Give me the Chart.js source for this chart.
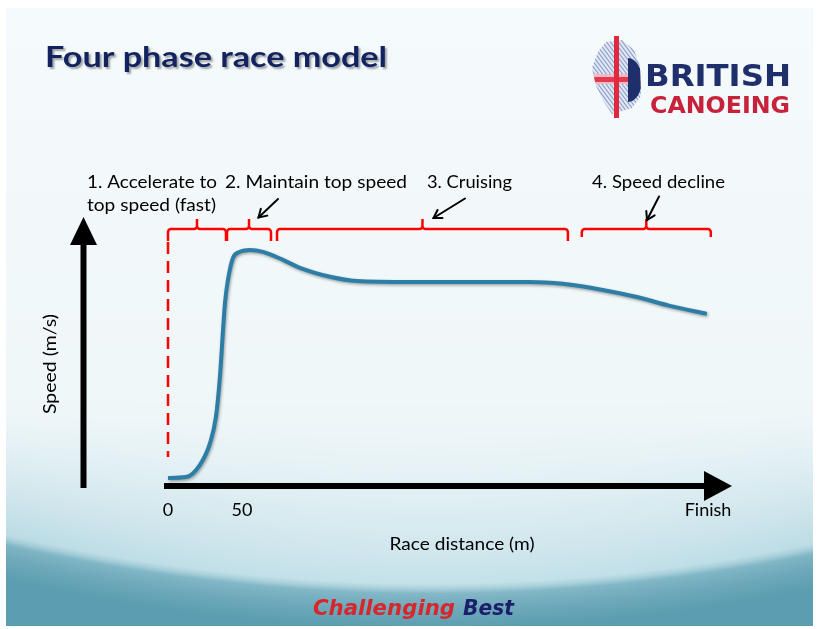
<!DOCTYPE html>
<html><head><meta charset="utf-8">
<script src="https://cdn.jsdelivr.net/npm/chart.js@4"></script>
<style>html,body{margin:0;padding:0;background:#fff;overflow:hidden}canvas{display:block}</style>
</head><body><canvas id="c" width="817" height="629"></canvas>
<script>
// ---------------- data ----------------
const FINISH_M = 365;            // schematic race length (x of "Finish")
const SPEED_MAX = 5.68;          // top of the speed axis (arrow tip)
const distance_m = [0, 12.2, 21.6, 28.4, 32.4, 35.1, 37.2, 38.5, 40.5, 43.9, 48.6, 55.4, 64.2, 77.7, 89.2, 109.5, 127.7, 163.5, 244.6, 266.9, 293.9, 316.9, 339.2, 364.2];
const speed_ms   = [0.15, 0.17, 0.43, 0.89, 1.45, 2.30, 3.30, 3.87, 4.36, 4.83, 4.96, 5.00, 4.96, 4.79, 4.62, 4.43, 4.34, 4.32, 4.32, 4.28, 4.15, 4.00, 3.81, 3.64];
const tickValues = [0, 50, FINISH_M];
const tickLabels = ['0', '50', 'Finish'];
const phaseLabels = [['1. Accelerate to', 'top speed (fast)'], ['2. Maintain top speed'], ['3. Cruising'], ['4. Speed decline']];
const phaseStart = [0, 39.9, 73.7, 279.7];
const phaseEnd   = [39.2, 69.6, 270.3, 366.9];
const titleText = 'Four phase race model';
const xAxisTitle = 'Race distance (m)';
const yAxisTitle = 'Speed (m/s)';
const logoTop = 'BRITISH', logoBottom = 'CANOEING';
const footerA = 'Challenging', footerB = 'Best';

// ---------------- drawing helpers ----------------
const FONT = 'Lato, "Open Sans", sans-serif';
function txt(ctx, s, x, y, font, color, align, targetW) {
  ctx.save();
  ctx.font = font; ctx.fillStyle = color; ctx.textAlign = align || 'left'; ctx.textBaseline = 'alphabetic';
  ctx.translate(x, y);
  if (targetW) { const w = ctx.measureText(s).width; ctx.scale(targetW / w, 1); }
  ctx.fillText(s, 0, 0);
  ctx.restore();
}
function arrowLine(ctx, x1, y1, x2, y2) {
  ctx.save();
  ctx.strokeStyle = '#000'; ctx.lineWidth = 2; ctx.lineCap = 'round';
  ctx.beginPath(); ctx.moveTo(x1, y1); ctx.lineTo(x2, y2); ctx.stroke();
  const a = Math.atan2(y2 - y1, x2 - x1), L = 9;
  ctx.beginPath();
  ctx.moveTo(x2 - L * Math.cos(a - 0.55), y2 - L * Math.sin(a - 0.55));
  ctx.lineTo(x2, y2);
  ctx.lineTo(x2 - L * Math.cos(a + 0.55), y2 - L * Math.sin(a + 0.55));
  ctx.stroke();
  ctx.restore();
}

let bgImage = null;
function buildBackground(ctx) {
  const W = 817, H = 629, L = 6, T = 8, R = 813, B = 626;
  const img = ctx.createImageData(W, H), d = img.data;
  const lerp = (a, b, t) => a + (b - a) * t;
  const mix = (c1, c2, t) => [lerp(c1[0], c2[0], t), lerp(c1[1], c2[1], t), lerp(c1[2], c2[2], t)];
  const cTop = [245, 250, 252], cMid = [240, 247, 249], cLow = [194, 224, 232];
  const cEdge = [148, 195, 208], cDark = [92, 157, 177];
  const clamp = v => v < 0 ? 0 : v > 1 ? 1 : v;
  for (let y = 0; y < H; y++) {
    for (let x = 0; x < W; x++) {
      const i = (y * W + x) * 4;
      let c;
      if (x < L || x >= R || y < T || y >= B) c = [255, 255, 255];
      else {
        const yb = 588 - 0.00027 * (x - 430) * (x - 430);
        let light;
        if (y < 380) light = mix(cTop, cMid, clamp((y - T) / (380 - T)));
        else light = mix(cMid, cLow, Math.pow(clamp((y - 380) / (yb - 380)), 1.8));
        const dd = y - yb;
        const dark = mix(cEdge, cDark, Math.pow(clamp(dd / 40), 0.6));
        const t = clamp((dd + 5) / 10);
        c = mix(light, dark, t);
        const side = clamp((y - 420) / 200) * Math.pow(Math.abs(x - 430) / 430, 2) * 0.16;
        c = mix(c, cDark, side);
      }
      d[i] = c[0]; d[i + 1] = c[1]; d[i + 2] = c[2]; d[i + 3] = 255;
    }
  }
  bgImage = img;
}

function drawLogo(ctx) {
  ctx.save();
  ctx.beginPath();
  ctx.moveTo(606, 42); ctx.lineTo(622, 40); ctx.lineTo(634, 50); ctx.lineTo(640, 66);
  ctx.lineTo(641, 96); ctx.lineTo(632, 108); ctx.lineTo(612, 114); ctx.lineTo(604, 102);
  ctx.lineTo(596, 86); ctx.lineTo(592, 68); ctx.lineTo(598, 52); ctx.closePath();
  ctx.save(); ctx.clip();
  ctx.fillStyle = '#e4e8f2'; ctx.fillRect(588, 36, 60, 80);
  ctx.strokeStyle = '#8fa3cf'; ctx.lineWidth = 1.2;
  for (let i = -80; i < 80; i += 4) { ctx.beginPath(); ctx.moveTo(590 + i, 36); ctx.lineTo(650 + i, 116); ctx.stroke(); }
  ctx.fillStyle = '#f0b8c4'; ctx.fillRect(588, 74, 60, 10);
  ctx.fillStyle = '#1f2f6b';
  ctx.beginPath(); ctx.ellipse(628, 80, 14, 22, 0, -Math.PI / 2, Math.PI / 2); ctx.fill();
  ctx.fillStyle = '#e23a4f'; ctx.fillRect(588, 77, 40, 5);
  ctx.restore();
  ctx.fillStyle = '#e0283e'; ctx.fillRect(614, 36, 5, 82);
  ctx.restore();
  txt(ctx, logoTop, 645, 86, 'bold 30px "DejaVu Sans", sans-serif', '#1f2f6b', 'left', 146);
  txt(ctx, logoBottom, 650, 113, 'bold 23px "DejaVu Sans", sans-serif', '#c8213a', 'left', 140);
}

// ---------------- plugin ----------------
const overlay = {
  id: 'overlay',
  beforeDraw(chart) {
    if (!bgImage) buildBackground(chart.ctx);
    chart.ctx.putImageData(bgImage, 0, 0);
  },
  beforeDatasetsDraw(chart) {
    const ctx = chart.ctx, xs = chart.scales.x, ys = chart.scales.y;
    const x0 = xs.getPixelForValue(0), y0 = ys.getPixelForValue(0), yTop = ys.getPixelForValue(SPEED_MAX);
    ctx.save();
    // red dashed start line
    ctx.strokeStyle = '#ff0000'; ctx.lineWidth = 2.5; ctx.setLineDash([12, 7]);
    ctx.beginPath(); ctx.moveTo(x0, yTop + 24); ctx.lineTo(x0, y0 - 28); ctx.stroke();
    ctx.setLineDash([]);
    // brackets
    const by = yTop + 11, bDown = yTop + 23, bUp = yTop + 1;
    ctx.lineJoin = 'round'; ctx.lineCap = 'butt';
    for (let i = 0; i < phaseStart.length; i++) {
      const a = xs.getPixelForValue(phaseStart[i]), b = xs.getPixelForValue(phaseEnd[i]);
      const m = (a + b) / 2, dn = i === 3 ? bDown - 4 : bDown, r = 3;
      ctx.beginPath();
      ctx.moveTo(a, dn); ctx.arcTo(a, by, a + r, by, r);
      ctx.lineTo(m - r, by); ctx.arcTo(m, by, m, by - r, r); ctx.lineTo(m, bUp);
      ctx.moveTo(m, by - r); ctx.arcTo(m, by, m + r, by, r);
      ctx.lineTo(b - r, by); ctx.arcTo(b, by, b, by + r, r); ctx.lineTo(b, dn);
      ctx.stroke();
    }
    // black axis arrows
    ctx.fillStyle = '#000'; ctx.strokeStyle = '#000'; ctx.lineWidth = 6;
    const ax = x0 - 84.5;
    ctx.beginPath(); ctx.moveTo(ax, y0 + 3); ctx.lineTo(ax, yTop + 26); ctx.stroke();
    ctx.beginPath(); ctx.moveTo(ax - 13.5, yTop + 27); ctx.lineTo(ax + 13.5, yTop + 27); ctx.lineTo(ax, yTop - 1); ctx.closePath(); ctx.fill();
    const xEnd = xs.getPixelForValue(FINISH_M);
    const ay = y0 + 1;
    ctx.beginPath(); ctx.moveTo(x0 - 4, ay); ctx.lineTo(xEnd, ay); ctx.stroke();
    ctx.beginPath(); ctx.moveTo(xEnd - 4, ay - 15); ctx.lineTo(xEnd - 4, ay + 15); ctx.lineTo(xEnd + 24, ay); ctx.closePath(); ctx.fill();
    ctx.restore();
    // curve shadow
    ctx.save();
    ctx.shadowColor = 'rgba(0,0,0,0.35)'; ctx.shadowBlur = 3; ctx.shadowOffsetX = 1; ctx.shadowOffsetY = 1.5;
  },
  afterDatasetsDraw(chart) {
    const ctx = chart.ctx, xs = chart.scales.x, ys = chart.scales.y;
    ctx.restore();
    const y0 = ys.getPixelForValue(0);
    // title
    ctx.save();
    ctx.shadowColor = 'rgba(0,0,0,0.35)'; ctx.shadowBlur = 2; ctx.shadowOffsetX = 2; ctx.shadowOffsetY = 2;
    txt(ctx, titleText, 45, 67, 'bold 29px ' + FONT, '#13235f', 'left', 342);
    ctx.restore();
    drawLogo(ctx);
    // phase labels
    const f = '18px ' + FONT;
    txt(ctx, phaseLabels[0][0], 87, 188, f, '#000', 'left', 130);
    txt(ctx, phaseLabels[0][1], 87, 211, f, '#000', 'left', 129);
    txt(ctx, phaseLabels[1][0], 225, 188, f, '#000', 'left', 182);
    txt(ctx, phaseLabels[2][0], 427, 188, f, '#000', 'left', 85);
    txt(ctx, phaseLabels[3][0], 592, 188, f, '#000', 'left', 133);
    // pointer arrows
    arrowLine(ctx, 278, 199, 258.5, 217.5);
    arrowLine(ctx, 465, 198.5, 433.5, 218);
    arrowLine(ctx, 659, 196.5, 647, 220);
    // tick labels
    for (let i = 0; i < tickValues.length; i++) {
      const px = xs.getPixelForValue(tickValues[i]);
      txt(ctx, tickLabels[i], px, y0 + 31, f, '#000', 'center');
    }
    // axis titles
    txt(ctx, xAxisTitle, 462, y0 + 65, f, '#000', 'center', 145);
    ctx.save(); ctx.translate(56, 364); ctx.rotate(-Math.PI / 2);
    txt(ctx, yAxisTitle, 0, 0, f, '#000', 'center', 100);
    ctx.restore();
    // footer
    txt(ctx, footerA, 313, 615, 'italic bold 22px "DejaVu Sans Condensed", "DejaVu Sans", sans-serif', '#d7262c', 'left', 142);
    txt(ctx, footerB, 463, 615, 'italic bold 22px "DejaVu Sans Condensed", "DejaVu Sans", sans-serif', '#1b1f6a', 'left', 51);
  }
};

new Chart(document.getElementById('c'), {
  type: 'line',
  data: {
    datasets: [{
      label: 'Speed',
      data: distance_m.map((d, i) => ({ x: d, y: speed_ms[i] })),
      borderColor: '#2c7ea6',
      borderWidth: 4,
      pointRadius: 0,
      cubicInterpolationMode: 'monotone',
      fill: false,
      clip: false
    }]
  },
  options: {
    responsive: false,
    animation: false,
    devicePixelRatio: 1,
    events: [],
    layout: { padding: { left: 168, right: 109, top: 218, bottom: 144 } },
    scales: {
      x: { type: 'linear', min: 0, max: FINISH_M, display: false },
      y: { type: 'linear', min: 0, max: SPEED_MAX, display: false }
    },
    plugins: { legend: { display: false }, tooltip: { enabled: false } }
  },
  plugins: [overlay]
});
</script>
</body></html>
